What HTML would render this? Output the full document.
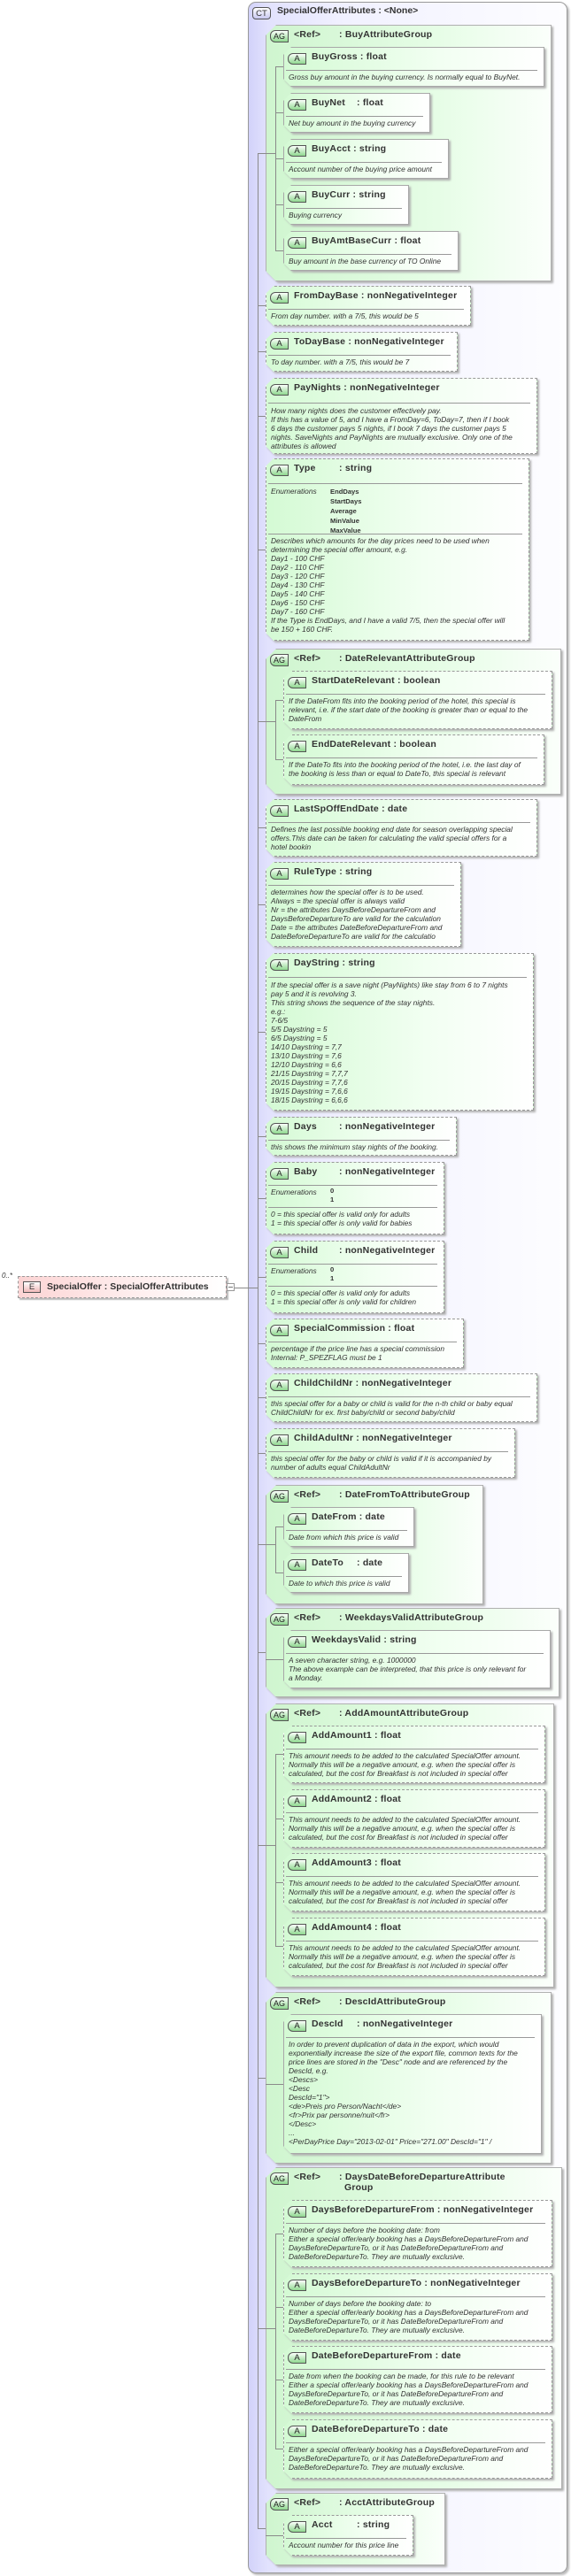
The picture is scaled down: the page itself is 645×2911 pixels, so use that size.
<!DOCTYPE html>
<html><head><meta charset="utf-8">
<style>
*{margin:0;padding:0;box-sizing:border-box}
body{width:645px;height:2911px;background:#fff;position:relative;overflow:hidden;font-family:"Liberation Sans",Arial,sans-serif;color:#333}
.w{position:absolute;filter:drop-shadow(2px 2px 1px #b0b0b0)}
.b{position:absolute;left:0;top:0;right:0;bottom:0;background:linear-gradient(90deg,#d4fad4,#f2fff2 60%,#fff);border:1px solid #a8a8a8;clip-path:polygon(9px 0,100% 0,100% 100%,9px 100%,0 calc(100% - 9px),0 9px)}
.d .b{border:1px dashed #999}
.bg{position:absolute;left:0;top:0;right:0;bottom:0;background:linear-gradient(90deg,#cff5cf,#e6fde6 60%,#fbfffb);border:1px solid #b0b0b0;clip-path:polygon(12px 0,100% 0,100% 100%,12px 100%,0 calc(100% - 12px),0 12px)}
.a{position:absolute;left:5px;top:7px;width:21px;height:13px;border:1px solid #555;border-radius:6px 0 0 6px;background:linear-gradient(#fafffa,#8fd88f);font-size:9.5px;line-height:12px;text-align:center;color:#222}
.ag{position:absolute;left:5px;top:6px;width:21px;height:14px;border:1px solid #555;border-radius:6px 0 0 6px;background:linear-gradient(#fafffa,#8fd88f);font-size:9px;line-height:13px;text-align:center;color:#222}
.n{position:absolute;left:32px;top:5px;font-weight:bold;font-size:10.5px;white-space:nowrap;letter-spacing:.2px}
.c{display:inline-block;min-width:51px}
.l{position:absolute;left:3px;right:8px;top:26px;border-top:1px solid #999}
.t{position:absolute;left:6px;top:29px;font-style:italic;font-size:8.4px;line-height:10px;white-space:nowrap}
.en{position:absolute;left:6px;font-style:italic;font-size:8.4px}
.ev{position:absolute;left:73px;font-weight:bold;font-size:7.6px;line-height:11px}
</style></head><body>

<!-- CT box -->
<div style="position:absolute;left:280px;top:2px;width:361px;height:2906px;border:1px solid #999;border-radius:9px;background:linear-gradient(90deg,#d2d2fa 0,#e2e2fd 6%,#f1f1ff 30%,#fdfdff 100%);box-shadow:2px 2px 2px #bbb"></div>
<div style="position:absolute;left:285px;top:8px;width:21px;height:14px;border:1px solid #555;border-radius:4px;background:linear-gradient(#fff,#c8c8f0);font-size:9.5px;line-height:13px;text-align:center">CT</div>
<div style="position:absolute;left:313px;top:6px;font-weight:bold;font-size:10.5px;white-space:nowrap">SpecialOfferAttributes : &lt;None&gt;</div>

<!-- Element -->
<div style="position:absolute;left:2px;top:1437px;font-style:italic;font-size:8px">0..*</div>
<div style="position:absolute;left:20px;top:1442px;width:236px;height:25px;border:1px dashed #999;background:linear-gradient(90deg,#fcd4d4,#fff0f0 60%,#fff);box-shadow:2px 2px 1px #bbb"></div>
<div style="position:absolute;left:26px;top:1448px;width:20px;height:13px;border:1px solid #555;background:linear-gradient(#fff,#f0b8b8);font-size:9.5px;line-height:12px;text-align:center">E</div>
<div style="position:absolute;left:53px;top:1448px;font-weight:bold;font-size:10.5px;white-space:nowrap">SpecialOffer : SpecialOfferAttributes</div>
<div style="position:absolute;left:256px;top:1450px;width:9px;height:9px;border:1px solid #999;background:#fff"></div>
<div style="position:absolute;left:258px;top:1454px;width:5px;border-top:1px solid #777"></div>

<!-- AG1 -->
<div class="w" style="left:300px;top:28px;width:323px;height:290px"><div class="bg"></div><div class="ag">AG</div><div class="n"><span class="c">&lt;Ref&gt;</span>: BuyAttributeGroup</div></div>
<div class="w" style="left:320px;top:53px;width:295px;height:45px"><div class="b"></div><div class="a">A</div><div class="n">BuyGross : float</div><div class="l"></div><div class="t">Gross buy amount in the buying currency. Is normally equal to BuyNet.</div></div>
<div class="w" style="left:320px;top:105px;width:166px;height:45px"><div class="b"></div><div class="a">A</div><div class="n"><span class="c">BuyNet</span>: float</div><div class="l"></div><div class="t">Net buy amount in the buying currency</div></div>
<div class="w" style="left:320px;top:157px;width:187px;height:45px"><div class="b"></div><div class="a">A</div><div class="n">BuyAcct : string</div><div class="l"></div><div class="t">Account number of the buying price amount</div></div>
<div class="w" style="left:320px;top:209px;width:142px;height:45px"><div class="b"></div><div class="a">A</div><div class="n">BuyCurr : string</div><div class="l"></div><div class="t">Buying currency</div></div>
<div class="w" style="left:320px;top:261px;width:198px;height:45px"><div class="b"></div><div class="a">A</div><div class="n">BuyAmtBaseCurr : float</div><div class="l"></div><div class="t">Buy amount in the base currency of TO Online</div></div>

<div class="w d" style="left:300px;top:323px;width:232px;height:45px"><div class="b"></div><div class="a">A</div><div class="n">FromDayBase : nonNegativeInteger</div><div class="l"></div><div class="t">From day number. with a 7/5, this would be 5</div></div>
<div class="w d" style="left:300px;top:375px;width:217px;height:45px"><div class="b"></div><div class="a">A</div><div class="n">ToDayBase : nonNegativeInteger</div><div class="l"></div><div class="t">To day number. with a 7/5, this would be 7</div></div>
<div class="w d" style="left:300px;top:427px;width:307px;height:86px"><div class="b"></div><div class="a">A</div><div class="n">PayNights : nonNegativeInteger</div><div class="l" style="top:28px"></div><div class="t" style="top:32px">How many nights does the customer effectively pay.<br>If this has a value of 5, and I have a FromDay=6, ToDay=7, then if I book<br>6 days the customer pays 5 nights, if I book 7 days the customer pays 5<br>nights. SaveNights and PayNights are mutually exclusive. Only one of the<br>attributes is allowed</div></div>
<div class="w d" style="left:300px;top:518px;width:298px;height:206px"><div class="b"></div><div class="a">A</div><div class="n"><span class="c">Type</span>: string</div><div class="l" style="top:28px"></div>
<div class="en" style="top:32px">Enumerations</div><div class="ev" style="top:32px">EndDays<br>StartDays<br>Average<br>MinValue<br>MaxValue</div>
<div class="l" style="top:85px"></div><div class="t" style="top:88px">Describes which amounts for the day prices need to be used when<br>determining the special offer amount, e.g.<br>Day1 - 100 CHF<br>Day2 - 110 CHF<br>Day3 - 120 CHF<br>Day4 - 130 CHF<br>Day5 - 140 CHF<br>Day6 - 150 CHF<br>Day7 - 160 CHF<br>If the Type is EndDays, and I have a valid 7/5, then the special offer will<br>be 150 + 160 CHF.</div></div>

<!-- AG2 -->
<div class="w" style="left:300px;top:733px;width:334px;height:165px"><div class="bg"></div><div class="ag">AG</div><div class="n"><span class="c">&lt;Ref&gt;</span>: DateRelevantAttributeGroup</div></div>
<div class="w d" style="left:320px;top:758px;width:304px;height:66px"><div class="b"></div><div class="a">A</div><div class="n">StartDateRelevant : boolean</div><div class="l"></div><div class="t">If the DateFrom fits into the booking period of the hotel, this special is<br>relevant, i.e. if the start date of the booking is greater than or equal to the<br>DateFrom</div></div>
<div class="w d" style="left:320px;top:830px;width:295px;height:57px"><div class="b"></div><div class="a">A</div><div class="n">EndDateRelevant : boolean</div><div class="l"></div><div class="t">If the DateTo fits into the booking period of the hotel, i.e. the last day of<br>the booking is less than or equal to DateTo, this special is relevant</div></div>

<div class="w d" style="left:300px;top:903px;width:307px;height:65px"><div class="b"></div><div class="a">A</div><div class="n">LastSpOffEndDate : date</div><div class="l"></div><div class="t">Defines the last possible booking end date for season overlapping special<br>offers.This date can be taken for calculating the valid special offers for a<br>hotel bookin</div></div>
<div class="w d" style="left:300px;top:974px;width:221px;height:96px"><div class="b"></div><div class="a">A</div><div class="n">RuleType : string</div><div class="l"></div><div class="t">determines how the special offer is to be used.<br>Always = the special offer is always valid<br>Nr = the attributes DaysBeforeDepartureFrom and<br>DaysBeforeDepartureTo are valid for the calculation<br>Date = the attributes DateBeforeDepartureFrom and<br>DateBeforeDepartureTo are valid for the calculatio</div></div>
<div class="w d" style="left:300px;top:1077px;width:303px;height:178px"><div class="b"></div><div class="a">A</div><div class="n">DayString : string</div><div class="l" style="top:27px"></div><div class="t" style="top:31px">If the special offer is a save night (PayNights) like stay from 6 to 7 nights<br>pay 5 and it is revolving 3.<br>This string shows the sequence of the stay nights.<br>e.g.:<br>7-6/5<br>5/5 Daystring = 5<br>6/5 Daystring = 5<br>14/10 Daystring = 7,7<br>13/10 Daystring = 7,6<br>12/10 Daystring = 6,6<br>21/15 Daystring = 7,7,7<br>20/15 Daystring = 7,7,6<br>19/15 Daystring = 7,6,6<br>18/15 Daystring = 6,6,6</div></div>
<div class="w d" style="left:300px;top:1262px;width:216px;height:44px"><div class="b"></div><div class="a">A</div><div class="n"><span class="c">Days</span>: nonNegativeInteger</div><div class="l"></div><div class="t">this shows the minimum stay nights of the booking.</div></div>
<div class="w d" style="left:300px;top:1313px;width:202px;height:82px"><div class="b"></div><div class="a">A</div><div class="n"><span class="c">Baby</span>: nonNegativeInteger</div><div class="l"></div>
<div class="en" style="top:29px">Enumerations</div><div class="ev" style="top:28px;line-height:10px">0<br>1</div><div class="l" style="top:51px"></div><div class="t" style="top:54px">0 = this special offer is valid only for adults<br>1 = this special offer is only valid for babies</div></div>
<div class="w d" style="left:300px;top:1402px;width:202px;height:82px"><div class="b"></div><div class="a">A</div><div class="n"><span class="c">Child</span>: nonNegativeInteger</div><div class="l"></div>
<div class="en" style="top:29px">Enumerations</div><div class="ev" style="top:28px;line-height:10px">0<br>1</div><div class="l" style="top:51px"></div><div class="t" style="top:54px">0 = this special offer is valid only for adults<br>1 = this special offer is only valid for children</div></div>
<div class="w d" style="left:300px;top:1490px;width:224px;height:56px"><div class="b"></div><div class="a">A</div><div class="n">SpecialCommission : float</div><div class="l"></div><div class="t">percentage if the price line has a special commission<br>Internal: P_SPEZFLAG must be 1</div></div>
<div class="w d" style="left:300px;top:1552px;width:307px;height:55px"><div class="b"></div><div class="a">A</div><div class="n">ChildChildNr : nonNegativeInteger</div><div class="l"></div><div class="t">this special offer for a baby or child is valid for the n-th child or baby equal<br>ChildChildNr for ex. first baby/child or second baby/child</div></div>
<div class="w d" style="left:300px;top:1614px;width:282px;height:56px"><div class="b"></div><div class="a">A</div><div class="n">ChildAdultNr : nonNegativeInteger</div><div class="l"></div><div class="t">this special offer for the baby or child is valid if it is accompanied by<br>number of adults equal ChildAdultNr</div></div>

<!-- AG3 -->
<div class="w" style="left:300px;top:1678px;width:246px;height:135px"><div class="bg"></div><div class="ag">AG</div><div class="n"><span class="c">&lt;Ref&gt;</span>: DateFromToAttributeGroup</div></div>
<div class="w" style="left:320px;top:1703px;width:148px;height:45px"><div class="b"></div><div class="a">A</div><div class="n">DateFrom : date</div><div class="l"></div><div class="t">Date from which this price is valid</div></div>
<div class="w" style="left:320px;top:1755px;width:142px;height:45px"><div class="b"></div><div class="a">A</div><div class="n"><span class="c">DateTo</span>: date</div><div class="l"></div><div class="t">Date to which this price is valid</div></div>

<!-- AG4 -->
<div class="w" style="left:300px;top:1817px;width:332px;height:101px"><div class="bg"></div><div class="ag">AG</div><div class="n"><span class="c">&lt;Ref&gt;</span>: WeekdaysValidAttributeGroup</div></div>
<div class="w" style="left:320px;top:1842px;width:302px;height:66px"><div class="b"></div><div class="a">A</div><div class="n">WeekdaysValid : string</div><div class="l"></div><div class="t">A seven character string, e.g. 1000000<br>The above example can be interpreted, that this price is only relevant for<br>a Monday.</div></div>

<!-- AG5 -->
<div class="w" style="left:300px;top:1925px;width:326px;height:321px"><div class="bg"></div><div class="ag">AG</div><div class="n"><span class="c">&lt;Ref&gt;</span>: AddAmountAttributeGroup</div></div>
<div class="w d" style="left:320px;top:1950px;width:296px;height:65px"><div class="b"></div><div class="a">A</div><div class="n">AddAmount1 : float</div><div class="l"></div><div class="t">This amount needs to be added to the calculated SpecialOffer amount.<br>Normally this will be a negative amount, e.g. when the special offer is<br>calculated, but the cost for Breakfast is not included in special offer</div></div>
<div class="w d" style="left:320px;top:2022px;width:296px;height:66px"><div class="b"></div><div class="a">A</div><div class="n">AddAmount2 : float</div><div class="l"></div><div class="t">This amount needs to be added to the calculated SpecialOffer amount.<br>Normally this will be a negative amount, e.g. when the special offer is<br>calculated, but the cost for Breakfast is not included in special offer</div></div>
<div class="w d" style="left:320px;top:2094px;width:296px;height:66px"><div class="b"></div><div class="a">A</div><div class="n">AddAmount3 : float</div><div class="l"></div><div class="t">This amount needs to be added to the calculated SpecialOffer amount.<br>Normally this will be a negative amount, e.g. when the special offer is<br>calculated, but the cost for Breakfast is not included in special offer</div></div>
<div class="w d" style="left:320px;top:2167px;width:296px;height:66px"><div class="b"></div><div class="a">A</div><div class="n">AddAmount4 : float</div><div class="l"></div><div class="t">This amount needs to be added to the calculated SpecialOffer amount.<br>Normally this will be a negative amount, e.g. when the special offer is<br>calculated, but the cost for Breakfast is not included in special offer</div></div>

<!-- AG6 -->
<div class="w" style="left:300px;top:2251px;width:323px;height:194px"><div class="bg"></div><div class="ag">AG</div><div class="n"><span class="c">&lt;Ref&gt;</span>: DescIdAttributeGroup</div></div>
<div class="w" style="left:320px;top:2276px;width:292px;height:158px"><div class="b"></div><div class="a">A</div><div class="n"><span class="c">DescId</span>: nonNegativeInteger</div><div class="l"></div><div class="t">In order to prevent duplication of data in the export, which would<br>exponentially increase the size of the export file, common texts for the<br>price lines are stored in the "Desc" node and are referenced by the<br>DescId, e.g.<br>&lt;Descs&gt;<br>&lt;Desc<br>DescId="1"&gt;<br>&lt;de&gt;Preis pro Person/Nacht&lt;/de&gt;<br>&lt;fr&gt;Prix par personne/nuit&lt;/fr&gt;<br>&lt;/Desc&gt;<br>...<br>&lt;PerDayPrice Day="2013-02-01" Price="271.00" DescId="1" /</div></div>

<!-- AG7 -->
<div class="w" style="left:300px;top:2449px;width:335px;height:364px"><div class="bg"></div><div class="ag">AG</div><div class="n"><span class="c">&lt;Ref&gt;</span>: DaysDateBeforeDepartureAttribute<br><span style="padding-left:57px">Group</span></div></div>
<div class="w d" style="left:320px;top:2486px;width:304px;height:76px"><div class="b"></div><div class="a">A</div><div class="n">DaysBeforeDepartureFrom : nonNegativeInteger</div><div class="l"></div><div class="t">Number of days before the booking date: from<br>Either a special offer/early booking has a DaysBeforeDepartureFrom and<br>DaysBeforeDepartureTo, or it has DateBeforeDepartureFrom and<br>DateBeforeDepartureTo. They are mutually exclusive.</div></div>
<div class="w d" style="left:320px;top:2569px;width:304px;height:76px"><div class="b"></div><div class="a">A</div><div class="n">DaysBeforeDepartureTo : nonNegativeInteger</div><div class="l"></div><div class="t">Number of days before the booking date: to<br>Either a special offer/early booking has a DaysBeforeDepartureFrom and<br>DaysBeforeDepartureTo, or it has DateBeforeDepartureFrom and<br>DateBeforeDepartureTo. They are mutually exclusive.</div></div>
<div class="w d" style="left:320px;top:2651px;width:304px;height:76px"><div class="b"></div><div class="a">A</div><div class="n">DateBeforeDepartureFrom : date</div><div class="l"></div><div class="t">Date from when the booking can be made, for this rule to be relevant<br>Either a special offer/early booking has a DaysBeforeDepartureFrom and<br>DaysBeforeDepartureTo, or it has DateBeforeDepartureFrom and<br>DateBeforeDepartureTo. They are mutually exclusive.</div></div>
<div class="w d" style="left:320px;top:2734px;width:304px;height:67px"><div class="b"></div><div class="a">A</div><div class="n">DateBeforeDepartureTo : date</div><div class="l"></div><div class="t">Either a special offer/early booking has a DaysBeforeDepartureFrom and<br>DaysBeforeDepartureTo, or it has DateBeforeDepartureFrom and<br>DateBeforeDepartureTo. They are mutually exclusive.</div></div>

<!-- AG8 -->
<div class="w" style="left:300px;top:2817px;width:203px;height:82px"><div class="bg"></div><div class="ag">AG</div><div class="n"><span class="c">&lt;Ref&gt;</span>: AcctAttributeGroup</div></div>
<div class="w d" style="left:320px;top:2842px;width:147px;height:46px"><div class="b"></div><div class="a">A</div><div class="n"><span class="c">Acct</span>: string</div><div class="l"></div><div class="t">Account number for this price line</div></div>

<!-- connectors -->
<svg style="position:absolute;left:0;top:0" width="645" height="2911" fill="none" stroke="#8a8a8a" stroke-width="1">
<path d="M265 1455.5H291.5M291.5 173V2858
M291 173.5H311.5M311.5 75.5V283.5M311 75.5H320M311 127.5H320M311 179.5H320M311 231.5H320M311 283.5H320
M291 345.5H300M291 397.5H300M291 470.5H300M291 621.5H300
M291 815.5H311.5M311.5 791.5V858.5M311 791.5H320M311 858.5H320
M291 935.5H300M291 1022.5H300M291 1166.5H300M291 1284.5H300M291 1354.5H300M291 1443.5H300M291 1518.5H300M291 1579.5H300M291 1642.5H300
M291 1745.5H311.5M311.5 1725.5V1777.5M311 1725.5H320M311 1777.5H320
M291 1867.5H300M300 1875.5H320
M291 2085.5H311.5M311.5 1982.5V2199.5M311 1982.5H320M311 2055.5H320M311 2127.5H320M311 2199.5H320
M291 2348.5H300M300 2355.5H320
M291 2631.5H311.5M311.5 2524.5V2767.5M311 2524.5H320M311 2607.5H320M311 2689.5H320M311 2767.5H320
M291 2857.5H300M300 2865.5H320"/>
</svg>
</body></html>
